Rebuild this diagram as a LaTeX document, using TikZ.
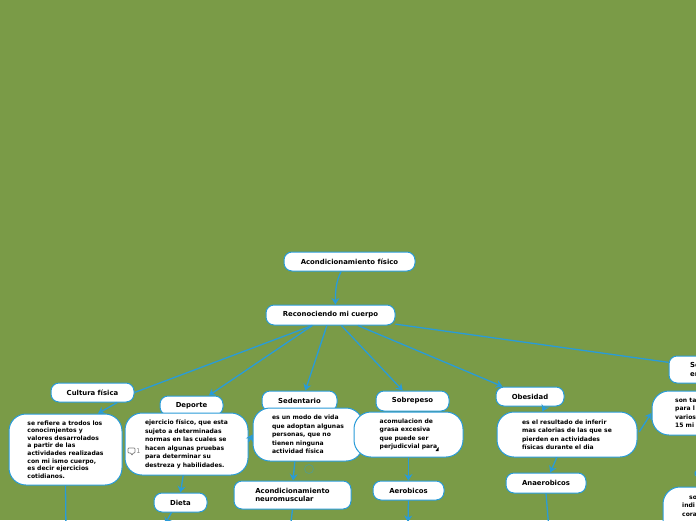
\documentclass[tikz,border=0pt]{standalone}
\usepackage{fontspec}
\setmainfont{DejaVu Sans}
\usepackage{xcolor}
\usetikzlibrary{arrows.meta,calc}
\definecolor{mapgreen}{RGB}{122,155,71}
\definecolor{mapblue}{RGB}{41,155,216}
\tikzset{
  topic/.style={draw=mapblue,fill=white,line width=1pt,rounded corners=8pt,font=\fontsize{6.9}{8.5}\selectfont\bfseries,align=left,inner sep=0pt},
  note/.style={topic,rounded corners=17pt,font=\fontsize{6.05}{8.5}\selectfont\bfseries},
  cuttext/.style={anchor=west,font=\fontsize{6.05}{8.5}\selectfont\bfseries,align=left,inner sep=0pt},
  link/.style={draw=mapblue,line width=1.3pt},
  linkto/.style={link,-{Stealth[length=6.5pt,width=8pt]}},
}
\begin{document}
\begin{tikzpicture}[x=1pt,y=-1pt]
\useasboundingbox[fill=mapgreen] (0,0) rectangle (696,520);
\node[topic,minimum width=131,minimum height=19] (title) at (349.5,261.5) {Acondicionamiento físico};
\node[topic,minimum width=129,minimum height=20] (recon) at (330.5,315) {Reconociendo mi cuerpo};
\node[topic,minimum width=83,minimum height=19] (cultura) at (92.5,392.5) {Cultura física};
\node[topic,minimum width=63,minimum height=19] (deporte) at (191.5,405.5) {Deporte};
\node[topic,minimum width=75,minimum height=20] (sedent) at (299.5,401) {Sedentario};
\node[topic,minimum width=73,minimum height=20] (sobrep) at (412.5,401) {Sobrepeso};
\node[topic,minimum width=68,minimum height=19] (obes) at (530,396.5) {Obesidad};
\node[topic,minimum width=101,minimum height=27] (sesion) at (719.5,369.5) {};
\node[cuttext,font=\fontsize{6.9}{9}\selectfont\bfseries] (sesiontxt) at (690,369.5) {Se\\en};
% notes under the topics
\node[note,minimum width=113,minimum height=71,font=\fontsize{6.05}{7.6}\selectfont\bfseries] (cultdesc) at (65.5,449.5) {se refiere a trodos los\\conocimjentos y\\valores desarrolados\\a partir de las\\actividades realizadas\\con mi ismo cuerpo,\\es decir ejercicios\\cotidianos.};
\node[note,minimum width=123,minimum height=62] (depdesc) at (186.5,444) {ejercicio físico, que esta\\sujeto a determinadas\\normas en las cuales se\\hacen algunas pruebas\\para determinar  su\\destreza y habilidades.};
\node[note,minimum width=110,minimum height=53] (seddesc) at (308,434.5) {es un modo de vida\\que adoptan algunas\\personas, que no\\tienen ninguna\\actividad física};
\node[note,minimum width=109,minimum height=45] (sobdesc) at (408.5,434.5) {acomulacion de\\grasa excesiva\\que puede ser\\perjudicvial para};
\node[note,minimum width=140,minimum height=45] (obdesc) at (567,434.5) {es el resultado de inferir\\mas calorias de las que se\\pierden en actividades\\físicas durante el dia};
\node[note,minimum width=100,minimum height=44] (tandesc) at (702,413) {};
\node[cuttext] (tantxt) at (675,413) {son ta\\para l\\varios\\15 mi};
\node[topic,minimum width=117,minimum height=28] (neuro) at (292.5,495) {Acondicionamiento\\neuromuscular};
\node[topic,minimum width=53,minimum height=19] (dieta) at (180.5,502.5) {Dieta};
\node[topic,minimum width=71,minimum height=19] (aerob) at (408.5,490.5) {Aerobicos};
\node[topic,minimum width=80,minimum height=20] (anaerob) at (546,483) {Anaerobicos};
\node[topic,minimum width=60,minimum height=13] (sliver) at (725,473.5) {};
\node[note,minimum width=100,minimum height=60] (sodesc) at (713,517) {};
\node[cuttext] (sotxt) at (682,506) {\hspace{7pt}so\\indi\\cora};
% free ends below the page
\coordinate (cultend) at (66,530);
\coordinate (dietaend) at (165,524);
\coordinate (neuroend) at (290,530);
\coordinate (aerobend) at (408,522);
\coordinate (anaerend) at (549,530);
\draw[linkto] (title.230) .. controls +(-5,10) and +(0,-14) .. (recon.65);
\draw[link] (recon.210) -- (cultura.east);
\draw[linkto] (recon.210) -- (deporte.30);
\draw[linkto] (recon.251) -- (sedent.61);
\draw[linkto] (recon.316) -- (sobrep.133);
\draw[linkto] (recon.339) -- (obes.160);
\draw[link] (recon.352) -- (sesion.172);
\draw[linkto] (cultura.338) -- (cultdesc.48);
\draw[link] (cultdesc.south) -- (cultend);
\draw[linkto] (depdesc.2) -- (seddesc.west);
\draw[linkto] (depdesc.264) -- (dieta.north);
\draw[linkto] (dieta.228) -- (dietaend);
\draw[linkto] (seddesc.244) -- (neuro.88);
\draw[link] (neuro.south) -- (neuroend);
\draw[linkto] (sobdesc.south) -- (aerob.north);
\draw[linkto] (aerob.south) -- (aerobend);
\draw[linkto] (obes.326) -- (obdesc.137);
\draw[linkto,shorten <=3pt] (obdesc.east) -- (tandesc.west);
\draw[linkto] (obdesc.246) -- (anaerob.68);
\draw[link] (anaerob.south) -- (anaerend);
% comment marks
\draw[gray,line width=.7pt,rounded corners=.8pt] (128,448) -- (135,448) -- (135,453) -- (133,453) -- (132,455.5) -- (131,453) -- (128,453) -- cycle;
\node[text=gray,font=\fontsize{6.5}{7}\selectfont,inner sep=0pt] (count) at (138.5,451) {1};
\node[draw=mapblue!45!mapgreen,circle,line width=.7pt,minimum size=9,inner sep=0pt] (mark) at (309,469) {};
\fill[black] (438.5,447) -- (438.5,451) -- (435.5,451) -- cycle;
\end{tikzpicture}
\end{document}
